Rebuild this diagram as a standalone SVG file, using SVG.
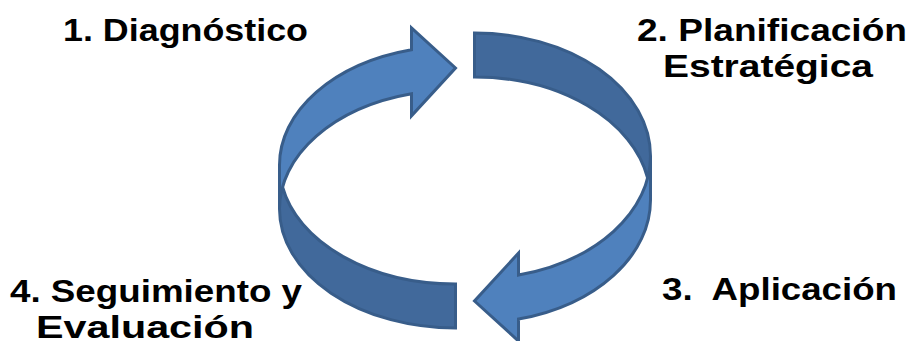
<svg xmlns="http://www.w3.org/2000/svg" width="909" height="341" viewBox="0 0 909 341">
  <style>
    .lbl { font-family: "Liberation Sans", Arial, sans-serif; font-weight: bold; font-size: 31px; fill: #000000; }
    .front { fill: #4F81BD; stroke: none; }
    .back { fill: #41699B; stroke: none; }
    .edge { fill: none; stroke: #385D8A; stroke-width: 3; stroke-linejoin: miter; stroke-miterlimit: 10; }
  </style>
  <defs>
    <g id="arrowA">
      <path class="front" d="M 0 119 A 176 119 0 0 0 132 234.2 L 132 212.2 L 176 260 L 132 300.2 L 132 278.2 A 176 119 0 0 1 0 163 Z"/>
      <path class="back" d="M 176 44 A 176 119 0 0 0 3.03 141 A 176 119 0 0 1 176 0 Z"/>
      <path class="edge" d="M 0 119 A 176 119 0 0 0 132 234.2 L 132 212.2 L 176 260 L 132 300.2 L 132 278.2 A 176 119 0 0 1 0 163 L 0 119 A 176 119 0 0 1 176 0 L 176 44 A 176 119 0 0 0 3.03 141"/>
    </g>
    <g id="arrowB">
      <path class="front" d="M 0 123 A 176 123 0 0 0 132 242.09 L 132 220.09 L 176 268 L 132 308.09 L 132 286.09 A 176 123 0 0 1 0 167 Z"/>
      <path class="back" d="M 176 44 A 176 123 0 0 0 2.84 145 A 176 123 0 0 1 176 0 Z"/>
      <path class="edge" d="M 0 123 A 176 123 0 0 0 132 242.09 L 132 220.09 L 176 268 L 132 308.09 L 132 286.09 A 176 123 0 0 1 0 167 L 0 123 A 176 123 0 0 1 176 0 L 176 44 A 176 123 0 0 0 2.84 145"/>
    </g>
  </defs>
  <rect x="0" y="0" width="909" height="341" fill="#FFFFFF"/>
  <g id="connectors">
    <use href="#arrowA" transform="matrix(1 0 0 -1 279.5 328)"/>
    <use href="#arrowB" transform="matrix(-1 0 0 1 650.5 33)"/>
  </g>
  <g id="node1">
    <text class="lbl" x="63" y="41" textLength="245" lengthAdjust="spacingAndGlyphs">1. Diagnóstico</text>
  </g>
  <g id="node2">
    <text class="lbl" x="637" y="41" textLength="270" lengthAdjust="spacingAndGlyphs">2. Planificación</text>
    <text class="lbl" x="663" y="77" textLength="210" lengthAdjust="spacingAndGlyphs">Estratégica</text>
  </g>
  <g id="node3">
    <text class="lbl" x="662" y="300" textLength="235" lengthAdjust="spacingAndGlyphs" xml:space="preserve">3.  Aplicación</text>
  </g>
  <g id="node4">
    <text class="lbl" x="10" y="302" textLength="292" lengthAdjust="spacingAndGlyphs">4. Seguimiento y</text>
    <text class="lbl" x="36" y="338" textLength="218" lengthAdjust="spacingAndGlyphs">Evaluación</text>
  </g>
</svg>
